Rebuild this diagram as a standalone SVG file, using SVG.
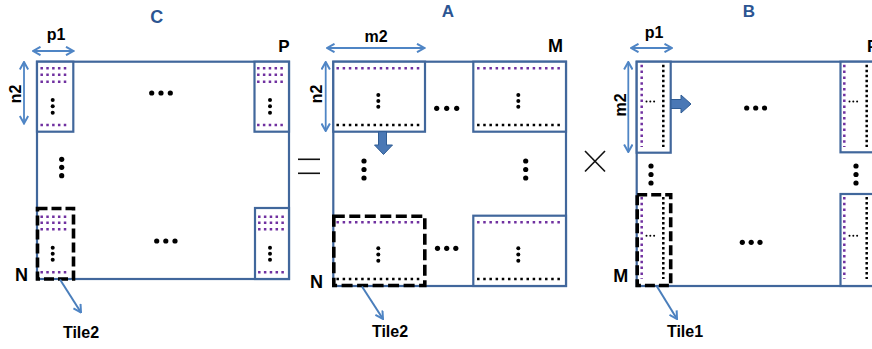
<svg xmlns="http://www.w3.org/2000/svg" width="872" height="349" viewBox="0 0 872 349">
<style>
.frame{fill:none;stroke:#41679C;stroke-width:2.2}
.tile{fill:#fff;stroke:#41679C;stroke-width:2.2}
.dash{fill:none;stroke:#000;stroke-width:3.6;stroke-dasharray:10 4}
.pdh{stroke:#7030A0;stroke-width:2.5;stroke-dasharray:2.5 3.33}
.pdv{stroke:#7030A0;stroke-width:2.5;stroke-dasharray:2.5 3.3}
.bdh{stroke:#000;stroke-width:2.5;stroke-dasharray:2.5 3.68}
.pah{stroke:#7030A0;stroke-width:2.5;stroke-dasharray:2.5 3.68}
.bdv{stroke:#000;stroke-width:2.5;stroke-dasharray:2.5 2.5}
.big{fill:#000}
.dim{stroke:#4F85C5;stroke-width:1.8;fill:none;marker-start:url(#chev);marker-end:url(#chev)}
.ptr{stroke:#4A7EBB;stroke-width:2;fill:none;marker-end:url(#chev)}
.blk{fill:#4A78B5;stroke:#2F5C94;stroke-width:1}
.lbl{font-family:"Liberation Sans",Arial,sans-serif;font-weight:bold;fill:#000}
.ttl{font-family:"Liberation Sans",Arial,sans-serif;font-weight:bold;fill:#2B5592}
.op{stroke:#111;stroke-width:1.6;fill:none}
</style>
<defs>
<marker id="chev" viewBox="0 0 10 10" refX="9" refY="5" markerWidth="10" markerHeight="10" markerUnits="userSpaceOnUse" orient="auto-start-reverse">
<path d="M1.5,0.8 L9,5 L1.5,9.2" fill="none" stroke="#4F85C5" stroke-width="2"/>
</marker>
</defs>

<!-- Matrix C -->
<g id="matrix-C">
<rect class="frame" x="37" y="61.7" width="252" height="217.3"/>
<rect class="tile" x="37" y="61.7" width="36.3" height="70"/>
<line class="pdh" x1="40.45" y1="68.3" x2="67" y2="68.3"/>
<line class="pdh" x1="40.45" y1="74.7" x2="67" y2="74.7"/>
<line class="pdh" x1="40.45" y1="81.7" x2="67" y2="81.7"/>
<line class="pdh" x1="40.45" y1="125" x2="67" y2="125"/>
<circle cx="52.7" cy="100" r="2"/><circle cx="52.7" cy="106.3" r="2"/><circle cx="52.7" cy="112.7" r="2"/>
<rect class="tile" x="254.5" y="61.7" width="34.5" height="70"/>
<line class="pdh" x1="257.05" y1="68.3" x2="283.5" y2="68.3"/>
<line class="pdh" x1="257.05" y1="74.7" x2="283.5" y2="74.7"/>
<line class="pdh" x1="257.05" y1="81.7" x2="283.5" y2="81.7"/>
<line class="pdh" x1="257.05" y1="125" x2="283.5" y2="125"/>
<circle cx="270" cy="100" r="2"/><circle cx="270" cy="106.3" r="2"/><circle cx="270" cy="112.7" r="2"/>
<rect class="tile" x="255" y="208" width="34" height="71"/>
<line class="pdh" x1="258.05" y1="216.7" x2="284.5" y2="216.7"/>
<line class="pdh" x1="258.05" y1="222.7" x2="284.5" y2="222.7"/>
<line class="pdh" x1="258.05" y1="229.3" x2="284.5" y2="229.3"/>
<line class="pdh" x1="258.05" y1="272.3" x2="284.5" y2="272.3"/>
<circle cx="270" cy="247.7" r="2"/><circle cx="270" cy="253.7" r="2"/><circle cx="270" cy="259.7" r="2"/>
<line class="pdh" x1="40.45" y1="216.7" x2="67" y2="216.7"/>
<line class="pdh" x1="40.45" y1="222.7" x2="67" y2="222.7"/>
<line class="pdh" x1="40.45" y1="229.3" x2="67" y2="229.3"/>
<line class="pdh" x1="40.45" y1="272.3" x2="67" y2="272.3"/>
<circle cx="52.7" cy="247.7" r="2"/><circle cx="52.7" cy="253.7" r="2"/><circle cx="52.7" cy="259.7" r="2"/>
<rect class="dash" x="37.5" y="208.5" width="36" height="70.5"/>
<circle cx="151.7" cy="93" r="2.6"/><circle cx="161" cy="93" r="2.6"/><circle cx="170.3" cy="93" r="2.6"/>
<circle cx="156.7" cy="241" r="2.6"/><circle cx="165.8" cy="241" r="2.6"/><circle cx="175" cy="241" r="2.6"/>
<circle cx="61.7" cy="159.3" r="2.6"/><circle cx="61.7" cy="167.3" r="2.6"/><circle cx="61.7" cy="175.7" r="2.6"/>
</g>
<g id="label-C">
<text class="ttl" x="156.7" y="23.3" font-size="18" text-anchor="middle">C</text>
<text class="lbl" x="56" y="40" font-size="16" text-anchor="middle">p1</text>
<text class="lbl" x="278.3" y="51.7" font-size="17">P</text>
<text class="lbl" transform="translate(20.5,94) rotate(-90)" font-size="16" text-anchor="middle">n2</text>
<text class="lbl" x="15" y="281" font-size="18">N</text>
<text class="lbl" x="81" y="338" font-size="16" text-anchor="middle">Tile2</text>
</g>

<!-- equals -->
<g id="op-equals">
<line class="op" x1="298" y1="159.3" x2="320" y2="159.3"/>
<line class="op" x1="298" y1="173.3" x2="320" y2="173.3"/>
</g>

<!-- Matrix A -->
<g id="matrix-A">
<rect class="frame" x="333.3" y="61.7" width="232.7" height="224.3"/>
<rect class="tile" x="333.3" y="61.7" width="91.7" height="70"/>
<line class="pah" x1="336.45" y1="68.3" x2="419.5" y2="68.3"/>
<line class="bdh" x1="336.45" y1="125" x2="419.5" y2="125"/>
<circle cx="378.3" cy="95" r="2"/><circle cx="378.3" cy="101" r="2"/><circle cx="378.3" cy="106.8" r="2"/>
<rect class="tile" x="473.3" y="61.7" width="92.7" height="70"/>
<line class="pah" x1="477.05" y1="68.3" x2="560" y2="68.3"/>
<line class="bdh" x1="477.05" y1="125" x2="560" y2="125"/>
<circle cx="518.3" cy="95" r="2"/><circle cx="518.3" cy="101" r="2"/><circle cx="518.3" cy="106.8" r="2"/>
<rect class="tile" x="473.3" y="215.7" width="92.7" height="70.3"/>
<line class="pah" x1="477.05" y1="222.3" x2="560" y2="222.3"/>
<line class="bdh" x1="477.05" y1="279" x2="560" y2="279"/>
<circle cx="518.3" cy="248.3" r="2"/><circle cx="518.3" cy="254.5" r="2"/><circle cx="518.3" cy="260.8" r="2"/>
<line class="pah" x1="336.45" y1="222.3" x2="419.5" y2="222.3"/>
<line class="bdh" x1="336.45" y1="279" x2="419.5" y2="279"/>
<circle cx="378.3" cy="248.3" r="2"/><circle cx="378.3" cy="254.5" r="2"/><circle cx="378.3" cy="260.8" r="2"/>
<rect class="dash" x="333.8" y="216.2" width="91" height="69.3" style="stroke-dasharray:11 4.5"/>
<circle cx="436.7" cy="108.3" r="2.6"/><circle cx="446.7" cy="108.3" r="2.6"/><circle cx="456.7" cy="108.3" r="2.6"/>
<circle cx="437.5" cy="248.3" r="2.6"/><circle cx="446.7" cy="248.3" r="2.6"/><circle cx="455.8" cy="248.3" r="2.6"/>
<circle cx="364" cy="161" r="2.6"/><circle cx="364" cy="169.5" r="2.6"/><circle cx="364" cy="178" r="2.6"/>
<circle cx="525.7" cy="161" r="2.6"/><circle cx="525.7" cy="169.5" r="2.6"/><circle cx="525.7" cy="178" r="2.6"/>
</g>
<g id="label-A">
<text class="ttl" x="448" y="17" font-size="17" text-anchor="middle">A</text>
<text class="lbl" x="376" y="41.7" font-size="16" text-anchor="middle">m2</text>
<text class="lbl" x="555.5" y="51.7" font-size="18" text-anchor="middle">M</text>
<text class="lbl" transform="translate(322,94) rotate(-90)" font-size="16" text-anchor="middle">n2</text>
<text class="lbl" x="310" y="288.3" font-size="18">N</text>
<text class="lbl" x="390" y="337.3" font-size="16" text-anchor="middle">Tile2</text>
</g>

<!-- times -->
<g id="op-times">
<line class="op" x1="585" y1="151" x2="605" y2="171.5"/>
<line class="op" x1="605" y1="151" x2="585" y2="171.5"/>
</g>

<!-- Matrix B -->
<g id="matrix-B">
<rect class="frame" x="636.7" y="61.7" width="240" height="224.3"/>
<rect class="tile" x="636.7" y="61.7" width="34" height="91"/>
<line class="pdv" x1="641.7" y1="64.8" x2="641.7" y2="147"/>
<line class="bdv" x1="663.3" y1="64.8" x2="663.3" y2="147"/>
<circle cx="646.5" cy="101.5" r="1"/><circle cx="650.3" cy="101.5" r="1"/><circle cx="654.1" cy="101.5" r="1"/>
<rect class="tile" x="840.5" y="61.7" width="36" height="90.6"/>
<line class="pdv" x1="844.3" y1="64.8" x2="844.3" y2="147"/>
<line class="bdv" x1="866.7" y1="64.8" x2="866.7" y2="147"/>
<circle cx="849.5" cy="101.5" r="1"/><circle cx="853.3" cy="101.5" r="1"/><circle cx="857.1" cy="101.5" r="1"/>
<rect class="tile" x="840.5" y="194" width="36" height="92"/>
<line class="pdv" x1="844.3" y1="197" x2="844.3" y2="279"/>
<line class="bdv" x1="866.7" y1="197" x2="866.7" y2="279"/>
<circle cx="849.5" cy="235.7" r="1"/><circle cx="853.3" cy="235.7" r="1"/><circle cx="857.1" cy="235.7" r="1"/>
<line class="pdv" x1="641.7" y1="197" x2="641.7" y2="279"/>
<line class="bdv" x1="663.3" y1="197" x2="663.3" y2="279"/>
<circle cx="646.5" cy="235.7" r="1"/><circle cx="650.3" cy="235.7" r="1"/><circle cx="654.1" cy="235.7" r="1"/>
<rect class="dash" x="637.2" y="194.8" width="33.5" height="90.7"/>
<circle cx="746.7" cy="108" r="2.6"/><circle cx="755.7" cy="108" r="2.6"/><circle cx="764.5" cy="108" r="2.6"/>
<circle cx="742.3" cy="242.3" r="2.6"/><circle cx="751.2" cy="242.3" r="2.6"/><circle cx="760" cy="242.3" r="2.6"/>
<circle cx="651" cy="166" r="2.6"/><circle cx="651" cy="174.5" r="2.6"/><circle cx="651" cy="183" r="2.6"/>
<circle cx="856" cy="166" r="2.6"/><circle cx="856" cy="174.5" r="2.6"/><circle cx="856" cy="183" r="2.6"/>
</g>
<g id="label-B">
<text class="ttl" x="749" y="17" font-size="17" text-anchor="middle">B</text>
<text class="lbl" x="654" y="37.5" font-size="16" text-anchor="middle">p1</text>
<text class="lbl" x="867" y="51.7" font-size="17">P</text>
<text class="lbl" transform="translate(625.5,105) rotate(-90)" font-size="16" text-anchor="middle">m2</text>
<text class="lbl" x="613.3" y="282.3" font-size="18">M</text>
<text class="lbl" x="685" y="337" font-size="16" text-anchor="middle">Tile1</text>
</g>

<!-- connectors -->
<g id="connectors">
<line class="dim" x1="33" y1="51" x2="73.5" y2="51"/>
<line class="dim" x1="24" y1="62" x2="24" y2="123.5"/>
<line class="dim" x1="327" y1="48" x2="424.5" y2="48"/>
<line class="dim" x1="325.7" y1="62" x2="325.7" y2="131"/>
<line class="dim" x1="631" y1="48" x2="672" y2="48"/>
<line class="dim" x1="628.3" y1="62" x2="628.3" y2="152"/>
<line class="ptr" x1="60" y1="279.5" x2="81" y2="312.5"/>
<line class="ptr" x1="362" y1="286.5" x2="383" y2="319"/>
<line class="ptr" x1="657" y1="286.5" x2="677" y2="319"/>
<polygon class="blk" points="378.5,131.7 386.5,131.7 386.5,145 392.5,145 383.5,154.5 374.5,145 378.5,145"/>
<polygon class="blk" points="671,99.5 681,99.5 681,95 691,104 681,113 681,108.5 671,108.5"/>
</g>
</svg>
